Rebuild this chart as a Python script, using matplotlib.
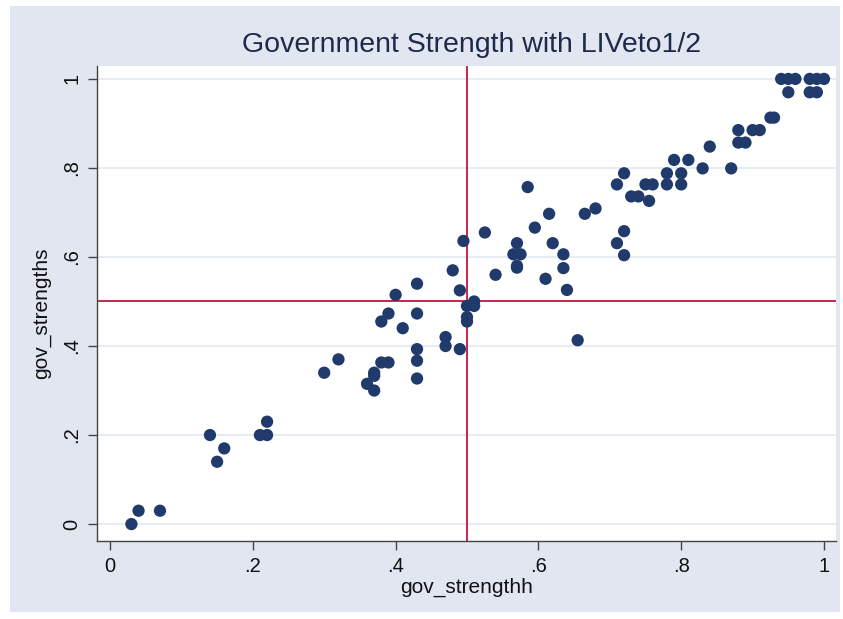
"""Scatter of government strength measures (Stata-style look)."""

import matplotlib
matplotlib.use("Agg")
import matplotlib.pyplot as plt
from matplotlib.patches import Rectangle

plt.rcParams["font.family"] = ["Liberation Sans", "DejaVu Sans"]

# data
gov_strengthh = [
    0.03, 0.04, 0.07, 0.14, 0.16, 0.15, 0.21, 0.22, 0.22,
    0.48, 0.54, 0.57, 0.43, 0.49, 0.40, 0.50, 0.51, 0.51, 0.39, 0.43,
    0.38, 0.41, 0.50, 0.50, 0.47, 0.47, 0.49, 0.43, 0.32, 0.30, 0.38,
    0.39, 0.43, 0.37, 0.37, 0.36, 0.37, 0.43,
    0.585, 0.615, 0.595, 0.525, 0.495, 0.57, 0.62, 0.565, 0.575, 0.635,
    0.57, 0.635, 0.61, 0.64, 0.655, 0.665, 0.68, 0.71, 0.72, 0.75,
    0.73, 0.74, 0.76, 0.755, 0.71, 0.72, 0.72,
    0.78, 0.80, 0.78, 0.80, 0.79, 0.81, 0.83, 0.87, 0.84, 0.88,
    0.88, 0.89, 0.90, 0.91, 0.925, 0.93,
    0.94, 0.95, 0.96, 0.95, 0.98, 0.99, 1.0, 0.98, 0.99,
]
gov_strengths = [
    0.0, 0.03, 0.03, 0.2, 0.17, 0.14, 0.2, 0.2, 0.23,
    0.57, 0.56, 0.58, 0.54, 0.525, 0.515, 0.49, 0.50, 0.49, 0.473, 0.473,
    0.455, 0.44, 0.465, 0.455, 0.42, 0.40, 0.393, 0.393, 0.37, 0.34, 0.363,
    0.363, 0.367, 0.34, 0.333, 0.315, 0.30, 0.327,
    0.757, 0.697, 0.666, 0.655, 0.636, 0.631, 0.631, 0.606, 0.606, 0.606,
    0.576, 0.575, 0.551, 0.526, 0.413, 0.697, 0.709, 0.763, 0.788, 0.763,
    0.736, 0.736, 0.763, 0.726, 0.631, 0.658, 0.604,
    0.788, 0.788, 0.763, 0.763, 0.818, 0.818, 0.799, 0.799, 0.848, 0.885,
    0.857, 0.857, 0.885, 0.885, 0.913, 0.913,
    1.0, 1.0, 1.0, 0.97, 1.0, 1.0, 1.0, 0.97, 0.97,
]
x_ticks = [0, 0.2, 0.4, 0.6, 0.8, 1.0]
x_tick_labels = ["0", ".2", ".4", ".6", ".8", "1"]
y_ticks = [0, 0.2, 0.4, 0.6, 0.8, 1.0]
y_tick_labels = ["0", ".2", ".4", ".6", ".8", "1"]

W, H = 843, 619
BG = "#e1e6f0"
NAVY = "#1f3a6b"
RED = "#c4002f"
TEXT = "#1e2a4a"

fig = plt.figure(figsize=(W / 100, H / 100), dpi=100, facecolor="white")
fig.patches.append(Rectangle((10 / W, 7 / H), 830 / W, 606 / H,
                             transform=fig.transFigure, facecolor=BG,
                             edgecolor="none", zorder=-10))

ax = fig.add_axes([97 / W, 1 - 541 / H, (836 - 97) / W, (541 - 66) / H])
ax.set_facecolor("white")

ax.set_xlim(-0.0182, 1.0168)
ax.set_ylim(-0.038, 1.029)

for t in y_ticks:
    ax.axhline(t, color="#e3e7f0", linewidth=1.2, zorder=1)
ax.axvline(0.5, color=RED, linewidth=1.2, zorder=2)
ax.axhline(0.5, color=RED, linewidth=1.2, zorder=2)

ax.scatter(gov_strengthh, gov_strengths, s=78, color=NAVY, edgecolors="none", zorder=3)

ax.set_xticks(x_ticks)
ax.set_xticklabels(x_tick_labels, fontsize=14.5, color="#111111")
ax.set_yticks(y_ticks)
ax.set_yticklabels(y_tick_labels, fontsize=14.5, color="#111111", rotation=90, va="center")
ax.tick_params(direction="out", length=6.5, width=1, color="#444444", pad=5)

for side in ["top", "right"]:
    ax.spines[side].set_visible(False)
for side in ["left", "bottom"]:
    ax.spines[side].set_color("#444444")
    ax.spines[side].set_linewidth(1)

ax.set_xlabel("gov_strengthh", fontsize=15, color="#111111", labelpad=1)
ax.set_ylabel("gov_strengths", fontsize=15, color="#111111")
ax.yaxis.set_label_coords(-0.062, 0.48)
fig.text(472 / W, 1 - 45 / H, "Government Strength with LIVeto1/2",
         fontsize=20.5, color=TEXT, ha="center", va="center")

plt.savefig("out.png", dpi=100, facecolor=fig.get_facecolor())
plt.close()
